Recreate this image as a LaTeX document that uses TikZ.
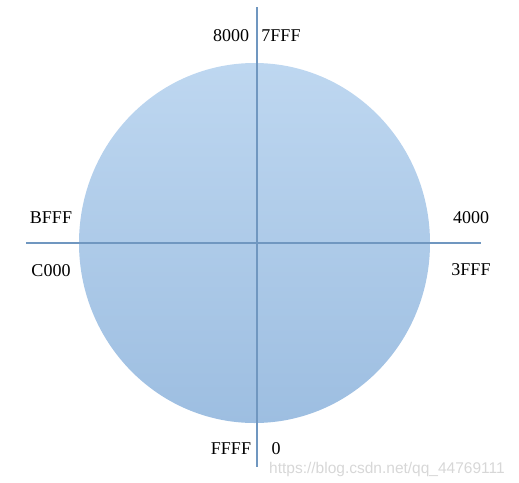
\documentclass[tikz,border=0pt]{standalone}
\usepackage{fontspec}
\setmainfont{Liberation Serif}
\newfontfamily\wmfont{Liberation Sans}
\usetikzlibrary{shapes.geometric}
\definecolor{disktop}{RGB}{190,215,240}
\definecolor{diskbot}{RGB}{157,190,225}
\definecolor{axiscol}{RGB}{112,151,192}
\definecolor{wmcol}{RGB}{215,215,215}
\tikzset{
  lbl/.style={font=\fontsize{18}{18}\selectfont, text=black, inner sep=0pt},
  axis/.style={draw=axiscol, line width=2pt},
  disk/.style={ellipse, draw=none, top color=disktop, bottom color=diskbot, inner sep=0pt, minimum width=351pt, minimum height=360pt}
}
\begin{document}
\begin{tikzpicture}[x=1pt,y=-1pt]
\useasboundingbox (0,0) rectangle (519,482);
\node[disk] (circ) at (254.5,243) {};
\coordinate (vt) at (257,7);
\coordinate (vb) at (257,467);
\coordinate (hl) at (26,242.5);
\coordinate (hr) at (481,242.5);
\draw[axis] (vt) -- (vb);
\draw[axis] (hl) -- (hr);
\node[lbl] (l8000) at (231,36) {8000};
\node[lbl] (l7fff) at (281,36) {7FFF};
\node[lbl] (lbfff) at (51,218) {BFFF};
\node[lbl] (lc000) at (51,271) {C000};
\node[lbl] (l4000) at (471,218) {4000};
\node[lbl] (l3fff) at (471,270) {3FFF};
\node[lbl] (lffff) at (231,449) {FFFF};
\node[lbl] (lzero) at (276,449) {0};
\node[font=\wmfont\fontsize{15.5}{16}\selectfont, text=wmcol, inner sep=0pt, anchor=west] (wm) at (269,469) {https://blog.csdn.net/qq\_44769111};
\end{tikzpicture}
\end{document}
